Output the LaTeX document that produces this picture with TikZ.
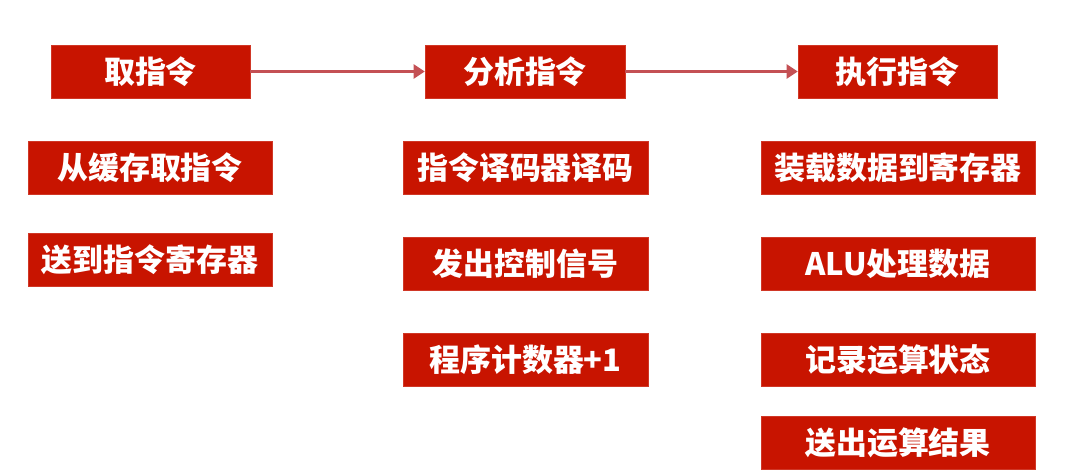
\documentclass[tikz,border=0pt]{standalone}
\usepackage{fontspec}
\newfontfamily\cjk{Noto Sans CJK SC}
\usetikzlibrary{arrows.meta}
\definecolor{boxred}{RGB}{200,20,0}
\definecolor{arrowred}{RGB}{196,80,84}
\tikzset{
	stepbox/.style={fill=boxred, draw=boxred!85!white, line width=0.3pt, text=white,
		font=\cjk\bfseries\fontsize{22}{24}\selectfont, inner sep=0pt,
		minimum height=1.325cm},
	flow/.style={draw=arrowred, line width=2.1pt, -{Triangle[length=8pt,width=10pt]}}
}
\begin{document}
\begin{tikzpicture}
		\useasboundingbox (0,0) rectangle (27,-11.825);
		% top row
		\node[stepbox, minimum width=4.975cm] (qu) at (3.7625,-1.7875) {取指令};
		\node[stepbox, minimum width=5cm] (fenxi) at (13.125,-1.7875) {分析指令};
		\node[stepbox, minimum width=4.975cm] (zhixing) at (22.4375,-1.7875) {执行指令};
		\draw[flow] (qu) -- (fenxi);
		\draw[flow] (fenxi) -- (zhixing);
		% fetch
		\node[stepbox, minimum width=6.1cm] (huancun) at (3.75,-4.2) {从缓存取指令};
		\node[stepbox, minimum width=6.1cm] (songdao) at (3.75,-6.4875) {送到指令寄存器};
		% decode
		\node[stepbox, minimum width=6.125cm] (yima) at (13.1375,-4.2) {指令译码器译码};
		\node[stepbox, minimum width=6.125cm] (kongzhi) at (13.1375,-6.5875) {发出控制信号};
		\node[stepbox, minimum width=6.125cm] (jishu) at (13.1375,-8.9875) {程序计数器+1};
		% execute
		\node[stepbox, minimum width=6.85cm] (zhuangzai) at (22.45,-4.2) {装载数据到寄存器};
		\node[stepbox, minimum width=6.85cm] (alu) at (22.45,-6.5875) {ALU处理数据};
		\node[stepbox, minimum width=6.85cm] (zhuangtai) at (22.45,-8.9875) {记录运算状态};
		\node[stepbox, minimum width=6.85cm] (jieguo) at (22.45,-11.0625) {送出运算结果};
\end{tikzpicture}
\end{document}
